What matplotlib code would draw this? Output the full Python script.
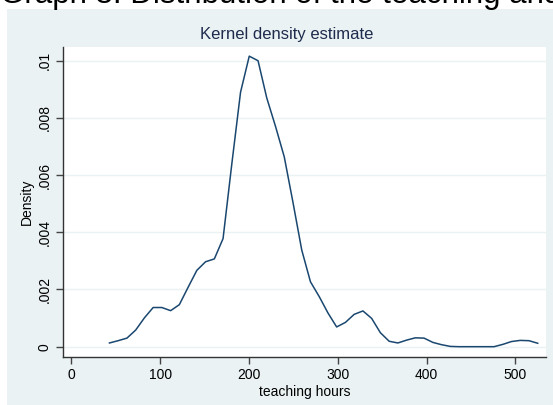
import matplotlib
matplotlib.use("Agg")
import matplotlib.pyplot as plt
from matplotlib.patches import Rectangle

# kdensity evaluation points (teaching hours) and density values
hours = [43.0, 52.8, 62.7, 72.5, 82.4, 92.2, 102.0, 111.9, 121.7, 131.6,
         141.4, 151.2, 161.1, 170.9, 180.8, 190.6, 200.4, 210.3, 220.1, 230.0,
         239.8, 249.6, 259.5, 269.3, 279.2, 289.0, 298.8, 308.7, 318.5, 328.4,
         338.2, 348.0, 357.9, 367.7, 377.6, 387.4, 397.2, 407.1, 416.9, 426.8,
         436.6, 446.4, 456.3, 466.1, 476.0, 485.8, 495.6, 505.5, 515.3, 525.2]
density = [0.00013, 0.00021, 0.00030, 0.00058, 0.00101, 0.00137, 0.00137, 0.00126, 0.00147, 0.00208,
           0.00267, 0.00297, 0.00307, 0.00378, 0.00640, 0.00890, 0.01016, 0.01000, 0.00870, 0.00770,
           0.00664, 0.00505, 0.00338, 0.00227, 0.00175, 0.00118, 0.00069, 0.00085, 0.00113, 0.00125,
           0.00099, 0.00049, 0.00019, 0.00013, 0.00023, 0.00031, 0.00030, 0.00015, 0.00007, 0.00001,
           0.0, 0.0, 0.0, 0.0, 0.0, 0.00008, 0.00018, 0.00022, 0.00021, 0.00012]

x_ticks = [0, 100, 200, 300, 400, 500]
y_ticks = [0, 0.002, 0.004, 0.006, 0.008, 0.01]
y_tick_labels = ["0", ".002", ".004", ".006", ".008", ".01"]

plt.rcParams["font.family"] = ["Liberation Sans", "DejaVu Sans"]

bg = "#eaf2f3"
navy = "#1a476f"

fig = plt.figure(figsize=(5.53, 4.05), dpi=100)
fig.patch.set_facecolor("white")
# stata-style graph region behind the plot
fig.patches.append(Rectangle((7 / 553, 0), 1, 1 - 9 / 405, transform=fig.transFigure,
                             facecolor=bg, edgecolor="none", zorder=-5))

ax = fig.add_axes([63 / 553, 48.3 / 405, (546 - 63) / 553, (358 - 48.3) / 405])
ax.set_zorder(2)
ax.set_facecolor("white")
ax.plot(hours, density, color=navy, lw=1.1)

ax.set_xlim(-9.3, 534.5)
ax.set_ylim(-0.00035, 0.01048)
ax.set_xticks(x_ticks)
ax.set_yticks(y_ticks)
ax.set_yticklabels(y_tick_labels, rotation=90, va="center")
ax.grid(axis="y", color=bg, lw=1)
ax.set_axisbelow(True)
for s in ["top", "right"]:
    ax.spines[s].set_visible(False)
for s in ["left", "bottom"]:
    ax.spines[s].set_color("#333333")
    ax.spines[s].set_linewidth(1)
ax.tick_params(direction="out", length=5, width=1, color="#444444",
               labelsize=10, labelcolor="black", pad=3)
ax.set_xlabel("teaching hours", fontsize=10, labelpad=2)
ax.set_ylabel("Density", fontsize=10, labelpad=3)

fig.text(287 / 553, 1 - 34 / 405, "Kernel density estimate", ha="center", va="center",
         fontsize=12, color="#1e2b4d", zorder=3)
# page heading cut off at the top of the screenshot
fig.text(0, 1 - 3 / 405, "Graph 3: Distribution of the teaching and research hours",
         ha="left", va="baseline", fontsize=22.5, color="black", zorder=3)

fig.savefig("out.png", dpi=100)
